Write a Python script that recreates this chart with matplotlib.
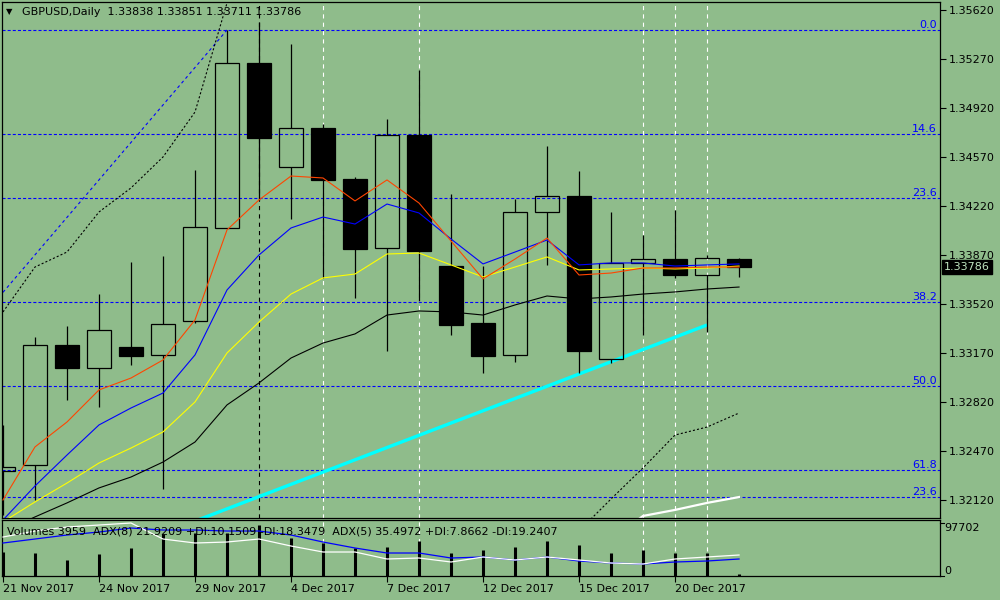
import numpy as np
import matplotlib.pyplot as plt
from matplotlib.patches import Rectangle
import matplotlib.transforms as mtransforms

plt.rcParams['font.family'] = ['DejaVu Sans']
plt.rcParams['lines.scale_dashes'] = False

BG = '#8fbc8b'

# === Data ===
dates = ['21 Nov 2017', '22 Nov 2017', '23 Nov 2017', '24 Nov 2017',
         '27 Nov 2017', '28 Nov 2017', '29 Nov 2017', '30 Nov 2017',
         '1 Dec 2017', '4 Dec 2017', '5 Dec 2017', '6 Dec 2017',
         '7 Dec 2017', '8 Dec 2017', '11 Dec 2017', '12 Dec 2017',
         '13 Dec 2017', '14 Dec 2017', '15 Dec 2017', '18 Dec 2017',
         '19 Dec 2017', '20 Dec 2017', '21 Dec 2017', '22 Dec 2017']
label_idx = [0, 3, 6, 9, 12, 15, 18, 21]

opens = [1.32327, 1.32370, 1.33227, 1.33063, 1.33213, 1.33156, 1.33399, 1.34063,
         1.35241, 1.34499, 1.34777, 1.34413, 1.33920, 1.34727, 1.33791, 1.33384,
         1.33156, 1.34177, 1.34291, 1.33127, 1.33813, 1.33841, 1.33727, 1.33838]
highs = [1.32656, 1.33284, 1.33363, 1.33591, 1.33820, 1.33863, 1.34477, 1.35477,
         1.35534, 1.35377, 1.34806, 1.34427, 1.34841, 1.35191, 1.34306, 1.33791,
         1.34270, 1.34649, 1.34470, 1.34177, 1.34013, 1.34191, 1.33870, 1.33851]
lows = [1.32013, 1.32120, 1.32834, 1.32784, 1.33084, 1.32199, 1.33384, 1.34063,
        1.34263, 1.34127, 1.33706, 1.33563, 1.33184, 1.33541, 1.33299, 1.33027,
        1.33106, 1.33799, 1.33027, 1.33099, 1.33299, 1.33706, 1.33320, 1.33711]
closes = [1.32356, 1.33227, 1.33063, 1.33334, 1.33149, 1.33377, 1.34070, 1.35241,
          1.34706, 1.34777, 1.34406, 1.33913, 1.34727, 1.33899, 1.33370, 1.33149,
          1.34177, 1.34291, 1.33184, 1.33813, 1.33841, 1.33727, 1.33849, 1.33786]
volumes = [44240, 42400, 29490, 40560, 51620, 77420, 79270, 79270,
           94020, 70050, 60830, 51620, 53460, 64520, 42400, 47930,
           53460, 64520, 57150, 42400, 47930, 42400, 42400, 3959]

ma_red = [1.32120, 1.32499, 1.32677, 1.32906, 1.32991, 1.33120, 1.33406, 1.34049,
          1.34263, 1.34434, 1.34420, 1.34256, 1.34406, 1.34241, 1.33970, 1.33699,
          1.33841, 1.33991, 1.33727, 1.33741, 1.33777, 1.33777, 1.33784, 1.33784]
ma_blue = [1.31977, 1.32220, 1.32441, 1.32656, 1.32777, 1.32884, 1.33156, 1.33620,
           1.33870, 1.34063, 1.34141, 1.34091, 1.34234, 1.34170, 1.33984, 1.33806,
           1.33891, 1.33977, 1.33799, 1.33813, 1.33813, 1.33791, 1.33799, 1.33806]
ma_yellow = [1.31963, 1.32106, 1.32241, 1.32384, 1.32491, 1.32606, 1.32820, 1.33170,
             1.33391, 1.33591, 1.33706, 1.33734, 1.33877, 1.33884, 1.33799, 1.33713,
             1.33784, 1.33856, 1.33763, 1.33770, 1.33777, 1.33770, 1.33777, 1.33791]
ma_black = [1.31891, 1.31999, 1.32099, 1.32206, 1.32284, 1.32391, 1.32534, 1.32799,
            1.32956, 1.33134, 1.33241, 1.33306, 1.33441, 1.33470, 1.33463, 1.33441,
            1.33513, 1.33577, 1.33556, 1.33570, 1.33591, 1.33606, 1.33627, 1.33641]
band_upper = [1.33463, 1.33784, 1.33891, 1.34177, 1.34349, 1.34570, 1.34891, 1.35670,
              1.36477, np.nan, np.nan, np.nan, np.nan, np.nan, np.nan, np.nan,
              np.nan, np.nan, 1.31899, 1.32127, 1.32349, 1.32584, 1.32641, 1.32741]
band_lower = [np.nan] * 19 + [1.31834, 1.32006, 1.32049, 1.32099, 1.32141]

di_plus = [32, 36, 40, 43, 47, 45, 45, 44, 44, 40, 33, 27,
           22, 22, 17, 18, 15, 18, 14, 12, 11, 13, 14, 16]
di_minus = [38, 44, 48, 50, 52, 36, 32, 33, 36, 29, 23, 23,
            16, 17, 13, 18, 15, 18, 15, 12, 11, 16, 18, 20]

fib_labels = ['0.0', '14.6', '23.6', '38.2', '50.0', '61.8', '23.6']
fib_prices = [1.35477, 1.34734, 1.34277, 1.33534, 1.32934, 1.32334, 1.32141]
fib_diag_x = [-12, 7]
fib_diag_y = [1.30391, 1.35477]
trend_x = [4, 22]
trend_y = [1.31794, 1.33370]
vlines_white = [10, 13, 20, 21, 22]
vlines_black = [8]

price_ticks = [1.35620, 1.35270, 1.34920, 1.34570, 1.34220, 1.33870,
               1.33520, 1.33170, 1.32820, 1.32470, 1.32120]
vol_ticks = [0, 97702]
last_price = 1.33786
header = 'GBPUSD,Daily  1.33838 1.33851 1.33711 1.33786'
panel_text = ('Volumes 3959  ADX(8) 21.9209 +DI:10.1509 -DI:18.3479  '
              'ADX(5) 35.4972 +DI:7.8662 -DI:19.2407')

# === Figure ===
fig = plt.figure(figsize=(10, 6), dpi=100, facecolor=BG)
ax = fig.add_axes([0.002, 0.1367, 0.938, 0.86], facecolor=BG)
ax2 = fig.add_axes([0.002, 0.04, 0.938, 0.0933], facecolor=BG, sharex=ax)
ax3 = ax2.twinx()

x = np.arange(len(opens))
xlim = (-0.031, 29.28)
blend = mtransforms.blended_transform_factory(ax.transAxes, ax.transData)

# vertical lines
for v in vlines_white:
    for a in (ax, ax2):
        a.axvline(v, color='white', lw=0.8, ls=(0, (3, 3)), zorder=1)
for v in vlines_black:
    ax.axvline(v, color='black', lw=0.8, ls=(0, (3, 3)), zorder=1)

# fibo levels
for lab, p in zip(fib_labels, fib_prices):
    ax.axhline(p, color='#0000ff', lw=0.8, ls=(0, (2.2, 1.5)), zorder=1)
    ax.text(0.9968, p, lab, transform=blend, ha='right', va='bottom',
            color='#0000ff', fontsize=8)
ax.plot(fib_diag_x, fib_diag_y, color='#0000ff', lw=0.8, ls=(0, (2.2, 2.2)), zorder=1)

# trendline + bands
ax.plot(trend_x, trend_y, color='#00ffff', lw=2.4, zorder=2, solid_capstyle='butt')
ax.plot(x, band_upper, color='black', lw=0.8, ls=(0, (1.5, 1.5)), zorder=2)
ax.plot(x, band_lower, color='white', lw=1.6, zorder=2)

# candles
for i in x:
    o, h, l, c = opens[i], highs[i], lows[i], closes[i]
    bot, top = min(o, c), max(o, c)
    ax.vlines(i, l, bot, color='black', lw=0.9, zorder=3)
    ax.vlines(i, top, h, color='black', lw=0.9, zorder=3)
    ax.add_patch(Rectangle((i - 0.375, bot), 0.75, top - bot,
                           facecolor='none' if c >= o else 'black',
                           edgecolor='black', lw=0.9, zorder=3))

# moving averages
ax.plot(x, ma_black, color='black', lw=0.8, zorder=4)
ax.plot(x, ma_yellow, color='#ffff00', lw=0.8, zorder=4)
ax.plot(x, ma_blue, color='#0000ff', lw=0.8, zorder=4)
ax.plot(x, ma_red, color='#ff4500', lw=0.8, zorder=4)

ax.set_xlim(*xlim)
ax.set_ylim(1.319914, 1.356771)
ax.yaxis.tick_right()
ax.set_yticks(price_ticks)
ax.set_yticklabels([f'{p:.5f}' for p in price_ticks])
ax.tick_params(axis='y', direction='out', length=4, width=0.8, pad=2, labelsize=8)
ax.tick_params(axis='x', bottom=False, labelbottom=False)
for s in ax.spines.values():
    s.set_linewidth(0.9)

ax.text(0.004, 0.981, '\u25bc', transform=ax.transAxes, fontsize=6, va='center', ha='left')
ax.text(0.0213, 0.981, header, transform=ax.transAxes, fontsize=8, va='center', ha='left')

ax.text(1.0045, last_price, f'{last_price:.5f}', transform=blend,
        ha='left', va='center', fontsize=8, color='#bfe3bf', zorder=10, clip_on=False,
        bbox=dict(boxstyle='square,pad=0.2', facecolor='black', edgecolor='black'))

# === Indicator panel ===
ax2.vlines(x, 0, volumes, color='black', lw=2.2, zorder=2)
ax2.set_ylim(0, 103230)
ax2.set_yticks([])
ax2.set_xticks(label_idx)
ax2.set_xticklabels([dates[i] for i in label_idx])
for t in ax2.get_xticklabels():
    t.set_ha('left')
ax2.tick_params(axis='x', direction='out', length=4, width=0.8, pad=2, labelsize=8)
for s in ax2.spines.values():
    s.set_linewidth(0.9)

# DI lines on a twin scale; volume labels drawn on the right
ax3.plot(x, di_plus, color='#0000ff', lw=0.9)
ax3.plot(x, di_minus, color='white', lw=0.9)
ax3.set_ylim(-1, 55)
ax3.set_xlim(*xlim)
ax3.set_yticks([])
for s in ax3.spines.values():
    s.set_visible(False)
vblend = mtransforms.blended_transform_factory(ax2.transAxes, ax2.transData)
for v, va in zip(vol_ticks, ['bottom', 'top']):
    ax2.plot([1.0, 1.0045], [v, v], transform=vblend, color='black', lw=0.8, clip_on=False)
    ax2.text(1.005, v, str(v), transform=vblend, ha='left', va=va, fontsize=8, clip_on=False)
ax3.text(0.005, 0.786, panel_text, transform=ax3.transAxes, fontsize=8, va='center', ha='left')

fig.savefig('out.png', dpi=100, facecolor=BG)
